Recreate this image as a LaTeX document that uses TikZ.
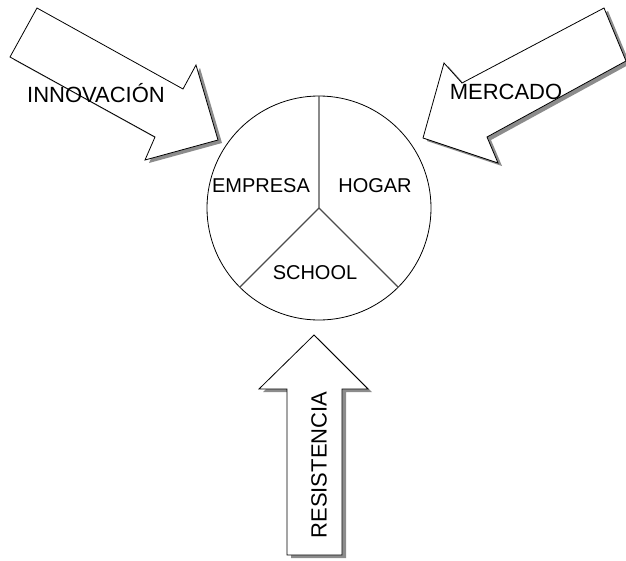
\documentclass[tikz,border=0pt]{standalone}
\usepackage{fontspec}
\setmainfont{Liberation Sans}
\begin{document}
\begin{tikzpicture}[x=1pt,y=-1pt,
  flecha/.style={fill=white,draw=black,line width=0.8pt,line join=miter},
  sombra/.style={fill=black!45,shift={(4,3)}},
  etiqueta/.style={font=\fontsize{20}{24}\selectfont},
  rotulo/.style={font=\fontsize{22}{26}\selectfont}]
\useasboundingbox (0,0) rectangle (626,560);
\def\innovacion{(37,8) -- (183,89) -- (196,65) -- (218,140) -- (145,160) -- (155,137) -- (10,57) -- cycle}
\def\mercado{(604,8) -- (462,83) -- (444,63) -- (423,138) -- (498,163) -- (487,137) -- (626,61) -- cycle}
\def\resistencia{(314,335) -- (368,389) -- (342,389) -- (342,555) -- (287,555) -- (287,389) -- (259,389) -- cycle}

% the three arrows, with their shadows first
\fill [sombra] \innovacion;
\fill [sombra] \mercado;
\fill [sombra] \resistencia;
\draw [flecha] \innovacion;
\draw [flecha] \mercado;
\draw [flecha] \resistencia;

% the circle, cut into three parts
\coordinate (c) at (319,208);
\coordinate (arriba) at (319,96);
\coordinate (izq) at (240,287);
\coordinate (der) at (398,287);
\draw [fill=white,line width=0.8pt] (c) circle (112pt);
\draw [black!70,line width=1.3pt] (arriba) -- (c) -- (izq);
\draw [black!70,line width=1.3pt] (c) -- (der);

\node [etiqueta] (empresa) at (261,186) {EMPRESA};
\node [etiqueta] (hogar) at (375,186) {HOGAR};
\node [etiqueta] (school) at (315,273) {SCHOOL};

\node [rotulo] (innov) at (96,93) {INNOVACIÓN};
\node [rotulo] (merc) at (506,92) {MERCADO};
\node [rotulo,rotate=90] (resist) at (319,465) {RESISTENCIA};

\end{tikzpicture}
\end{document}
